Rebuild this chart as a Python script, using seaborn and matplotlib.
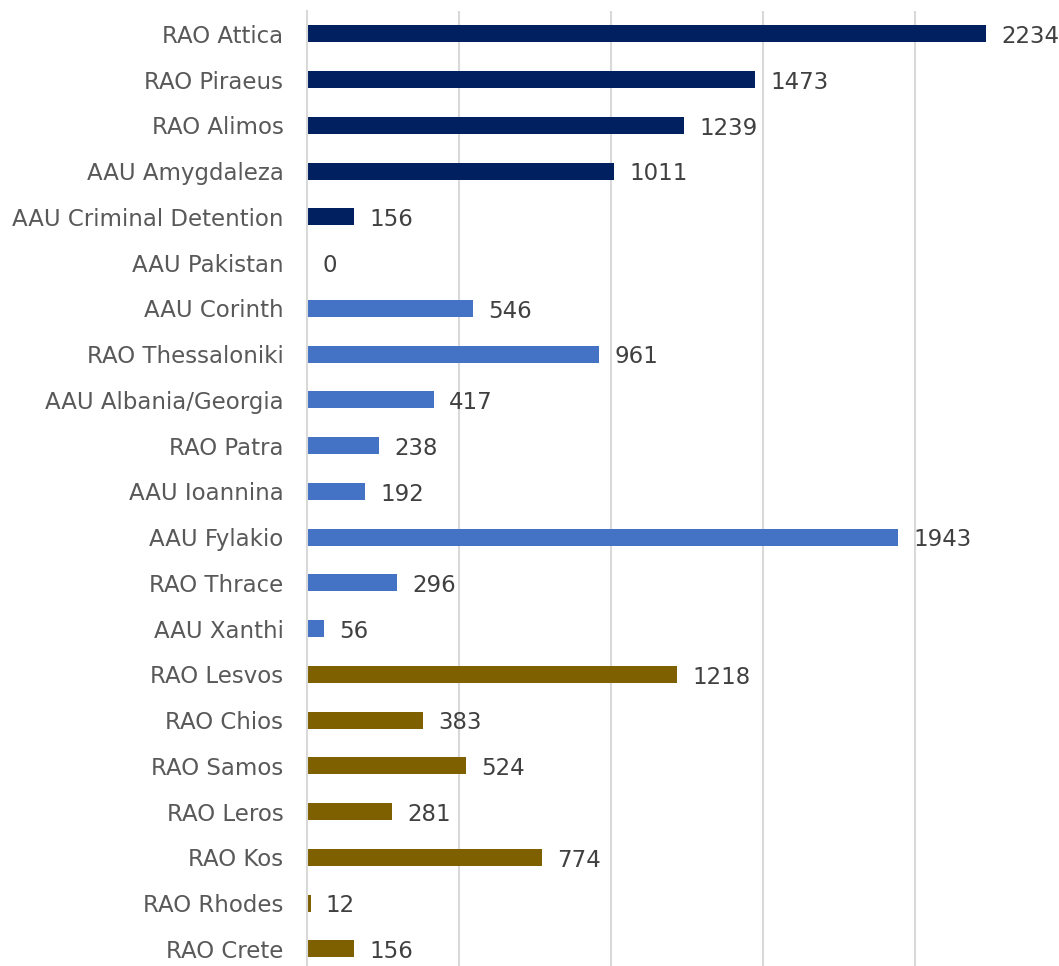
import matplotlib
matplotlib.use("Agg")
import matplotlib.pyplot as plt
import seaborn as sns
import pandas as pd

categories = ["RAO Attica", "RAO Piraeus", "RAO Alimos", "AAU Amygdaleza",
              "AAU Criminal Detention", "AAU Pakistan", "AAU Corinth",
              "RAO Thessaloniki", "AAU Albania/Georgia", "RAO Patra",
              "AAU Ioannina", "AAU Fylakio", "RAO Thrace", "AAU Xanthi",
              "RAO Lesvos", "RAO Chios", "RAO Samos", "RAO Leros", "RAO Kos",
              "RAO Rhodes", "RAO Crete"]
values = [2234, 1473, 1239, 1011, 156, 0, 546, 961, 417, 238, 192, 1943,
          296, 56, 1218, 383, 524, 281, 774, 12, 156]
groups = ["Attica"] * 6 + ["Mainland"] * 8 + ["Islands"] * 7
group_colors = {"Attica": "#002060", "Mainland": "#4472C4", "Islands": "#7F6000"}

df = pd.DataFrame({"cat": categories, "val": values, "grp": groups})

sns.set_theme(style="white")
plt.rcParams['font.family'] = ['DejaVu Sans']

fig = plt.figure(figsize=(10.59, 9.66), dpi=100)
ax = fig.add_axes([0.2899, -0.006, 0.7177, 0.9946])

sns.barplot(data=df, y="cat", x="val", hue="grp", palette=group_colors,
            dodge=False, width=0.37, legend=False, ax=ax, orient="h",
            saturation=1, linewidth=0)

ax.set_xlim(0, 2500)
ax.set_ylim(len(categories) - 0.5, -0.5)
ax.set_xticks([500, 1000, 1500, 2000])
ax.set_xticklabels([])
ax.xaxis.grid(True, color="#d9d9d9", linewidth=1.5)
ax.set_axisbelow(True)
ax.set_xlabel("")
ax.set_ylabel("")
for s in ["top", "right", "bottom"]:
    ax.spines[s].set_visible(False)
ax.spines["left"].set_color("#d9d9d9")
ax.spines["left"].set_linewidth(1.5)
ax.tick_params(axis="y", length=0, pad=17, labelsize=16.5, labelcolor="#595959")
ax.tick_params(axis="x", length=0)

for i, v in enumerate(values):
    ax.annotate(str(v), xy=(v, i), xytext=(11, -2), textcoords="offset points",
                va="center", ha="left", fontsize=16.5, color="#404040")

fig.savefig("out.png", dpi=100)
